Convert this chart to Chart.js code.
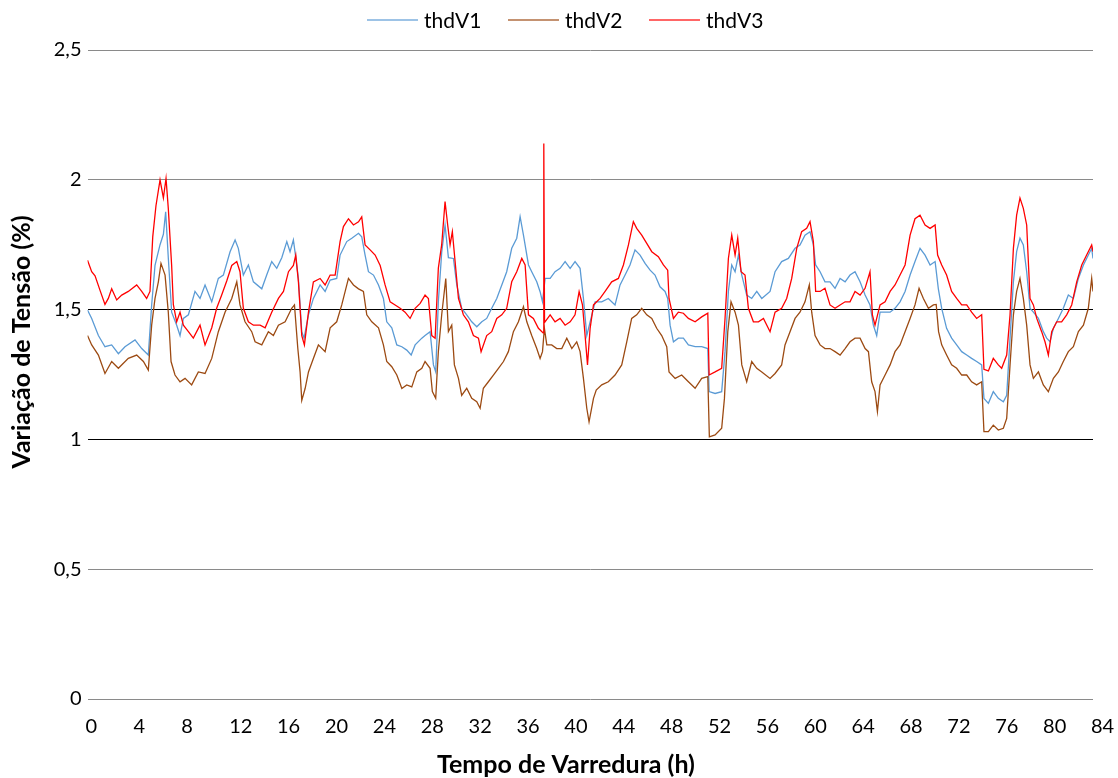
<!DOCTYPE html>
<html><head><meta charset="utf-8">
<script src="https://cdn.jsdelivr.net/npm/chart.js@4.4.0/dist/chart.umd.min.js"></script>
<style>html,body{margin:0;padding:0;background:#fff}#wrap{width:1118px;height:778px}</style>
</head><body><div id="wrap"><canvas id="c" width="1118" height="778"></canvas></div>
<script>
const seriesNames = ['thdV1', 'thdV2', 'thdV3'];
const seriesColors = ['#5B9BD5', '#9C4A12', '#FF0000'];
const xTickValues = [0,4,8,12,16,20,24,28,32,36,40,44,48,52,56,60,64,68,72,76,80,84];
const yTickValues = [0,0.5,1,1.5,2,2.5];
const xTitle = 'Tempo de Varredura (h)';
const yTitle = 'Variação de Tensão (%)';

// [hours, value] readings
const thdV1 = [[0,1.498],[0.35,1.466],[0.91,1.40],[1.46,1.357],[2.02,1.364],[2.58,1.33],[3.13,1.357],[3.97,1.383],[4.53,1.35],[5.08,1.325],[5.36,1.518],[5.64,1.67],[6.06,1.75],[6.34,1.79],[6.53,1.877],[6.75,1.70],[7.03,1.49],[7.45,1.44],[7.73,1.40],[8.01,1.466],[8.43,1.48],[8.98,1.57],[9.40,1.543],[9.82,1.595],[10.38,1.53],[10.93,1.62],[11.35,1.633],[11.91,1.723],[12.33,1.768],[12.60,1.736],[13.02,1.633],[13.44,1.672],[13.86,1.607],
[14.56,1.58],[14.97,1.633],[15.39,1.685],[15.81,1.659],[16.23,1.70],[16.65,1.762],[16.92,1.723],[17.2,1.768],[17.4,1.70],[17.62,1.62],[17.9,1.415],[18.09,1.39],[18.46,1.48],[18.87,1.543],[19.43,1.595],[19.85,1.57],[20.27,1.614],[20.82,1.62],[21.1,1.71],[21.66,1.762],[22.08,1.775],[22.64,1.794],[22.91,1.78],[23.19,1.71],[23.47,1.646],[23.89,1.633],[24.31,1.595],[24.72,1.543],[25.0,1.453],[25.42,1.43],[25.84,1.364],[26.26,1.357],[26.67,1.344],[27.04,1.325],[27.37,1.364],[27.93,1.39],
[28.2,1.40],[28.62,1.415],[28.9,1.287],[29.09,1.26],[29.31,1.53],[29.59,1.72],[29.87,1.826],[30.15,1.70],[30.57,1.697],[30.85,1.595],[31.26,1.505],[31.68,1.48],[32.1,1.453],[32.52,1.434],[32.94,1.453],[33.35,1.466],[33.77,1.505],[34.19,1.543],[34.61,1.595],[35.02,1.646],[35.44,1.736],[35.86,1.775],[36.14,1.858],[36.42,1.787],[36.84,1.672],[37.11,1.646],[37.53,1.607],[37.81,1.569],[38.01,1.53],[38.23,1.62],[38.65,1.62],[39.06,1.646],[39.48,1.659],[39.9,1.685],[40.32,1.659],[40.73,1.685],[41.15,1.659],[41.43,1.543],[41.71,1.40],[41.99,1.453],[42.41,1.53],
[42.96,1.53],[43.51,1.543],[44.07,1.518],[44.49,1.595],[44.91,1.633],[45.32,1.672],[45.74,1.73],[46.16,1.71],[46.58,1.678],[47.0,1.652],[47.41,1.633],[47.83,1.588],[48.25,1.57],[48.47,1.543],[48.67,1.44],[48.95,1.376],[49.36,1.39],[49.78,1.39],[50.2,1.364],[50.76,1.357],[51.31,1.357],[51.82,1.35],[51.93,1.184],[52.43,1.177],[52.98,1.184],[53.26,1.338],[53.54,1.57],[53.82,1.672],[54.1,1.646],[54.38,1.71],[54.66,1.633],[55.07,1.556],[55.49,1.543],[55.91,1.57],[56.33,1.543],
[57.02,1.57],[57.44,1.646],[57.99,1.685],[58.55,1.697],[59.11,1.736],[59.52,1.749],[59.94,1.787],[60.36,1.80],[60.64,1.749],[60.83,1.672],[61.2,1.646],[61.61,1.607],[62.03,1.607],[62.45,1.582],[62.87,1.62],[63.29,1.607],[63.7,1.633],[64.12,1.646],[64.54,1.607],[64.96,1.556],[65.37,1.518],[65.65,1.44],[65.93,1.40],[66.21,1.49],[66.63,1.49],[67.05,1.49],[67.46,1.505],[67.88,1.53],[68.3,1.57],[68.72,1.633],[69.13,1.685],[69.55,1.736],[69.97,1.71],[70.39,1.672],[70.81,1.685],
[71.08,1.58],[71.36,1.505],[71.77,1.428],[72.19,1.39],[72.61,1.364],[73.03,1.338],[73.45,1.325],[73.86,1.312],[74.28,1.30],[74.7,1.287],[74.89,1.158],[75.26,1.139],[75.67,1.184],[76.09,1.158],[76.51,1.145],[76.79,1.17],[77.07,1.39],[77.35,1.607],[77.62,1.723],[77.9,1.775],[78.18,1.749],[78.46,1.646],[78.74,1.505],[79.02,1.49],[79.44,1.466],[79.85,1.415],[80.13,1.39],[80.41,1.376],[80.69,1.428],[81.11,1.466],[81.52,1.505],[81.94,1.556],[82.36,1.543],[82.78,1.62],[83.2,1.672],[83.61,1.71],[83.89,1.736],[84.0,1.697]];

const thdV2 = [[0,1.40],[0.35,1.364],[0.91,1.325],[1.46,1.254],[2.02,1.30],[2.58,1.274],[3.41,1.312],[4.11,1.325],[4.67,1.30],[5.08,1.267],[5.36,1.44],[5.64,1.543],[5.92,1.607],[6.14,1.678],[6.48,1.633],[6.75,1.49],[6.98,1.30],[7.31,1.248],[7.73,1.222],[8.15,1.235],[8.70,1.21],[9.26,1.26],[9.82,1.254],[10.38,1.312],[10.93,1.415],[11.49,1.49],[12.05,1.543],[12.47,1.607],[12.74,1.518],[13.16,1.453],[13.72,1.415],
[14.0,1.376],[14.56,1.364],[15.11,1.415],[15.53,1.40],[15.95,1.44],[16.51,1.453],[17.06,1.505],[17.29,1.518],[17.57,1.35],[17.76,1.26],[17.9,1.15],[18.18,1.196],[18.46,1.26],[18.87,1.312],[19.29,1.364],[19.85,1.338],[20.27,1.43],[20.82,1.453],[21.24,1.518],[21.8,1.62],[22.22,1.595],[22.64,1.58],[23.05,1.57],[23.33,1.48],[23.75,1.453],[24.31,1.43],[24.72,1.364],[25.0,1.30],[25.42,1.28],[25.84,1.248],[26.26,1.196],[26.67,1.21],[27.09,1.202],[27.51,1.26],[27.93,1.274],
[28.2,1.30],[28.62,1.274],[28.81,1.184],[29.09,1.158],[29.31,1.338],[29.59,1.48],[29.93,1.62],[30.15,1.415],[30.43,1.44],[30.65,1.287],[30.99,1.235],[31.26,1.17],[31.68,1.197],[32.1,1.158],[32.52,1.145],[32.8,1.12],[33.07,1.197],[33.49,1.222],[33.91,1.248],[34.33,1.274],[34.75,1.30],[35.16,1.338],[35.58,1.415],[36.0,1.453],[36.42,1.511],[36.7,1.453],[37.11,1.40],[37.53,1.35],[37.81,1.312],[38.01,1.338],[38.17,1.428],[38.37,1.364],[38.78,1.364],[39.2,1.35],[39.62,1.35],[40.04,1.39],[40.46,1.35],[40.87,1.376],[41.15,1.338],[41.43,1.235],[41.71,1.12],[41.9,1.068],[42.27,1.158],
[42.5,1.19],[42.96,1.21],[43.51,1.222],[44.07,1.248],[44.63,1.287],[45.05,1.376],[45.46,1.466],[45.88,1.48],[46.3,1.505],[46.72,1.48],[47.14,1.466],[47.55,1.428],[47.97,1.40],[48.39,1.357],[48.58,1.26],[49.09,1.235],[49.64,1.248],[50.2,1.222],[50.76,1.197],[51.31,1.235],[51.82,1.242],[51.95,1.01],[52.43,1.017],[52.98,1.043],[53.21,1.158],[53.49,1.415],[53.76,1.53],[54.1,1.49],[54.38,1.44],[54.66,1.287],[55.07,1.222],[55.49,1.30],[55.91,1.274],[56.33,1.26],
[57.02,1.235],[57.44,1.254],[57.99,1.287],[58.27,1.364],[58.69,1.415],[59.11,1.466],[59.52,1.49],[59.94,1.53],[60.3,1.595],[60.5,1.49],[60.78,1.40],[61.2,1.364],[61.61,1.35],[62.03,1.35],[62.45,1.338],[62.87,1.325],[63.29,1.35],[63.7,1.376],[64.12,1.39],[64.54,1.39],[64.96,1.35],[65.24,1.338],[65.51,1.222],[65.79,1.184],[65.99,1.107],[66.21,1.21],[66.63,1.248],[67.05,1.287],[67.46,1.338],[67.88,1.364],[68.3,1.415],[68.72,1.466],[69.13,1.518],[69.47,1.582],[69.83,1.543],[70.25,1.505],[70.67,1.518],
[70.9,1.52],[71.1,1.415],[71.36,1.364],[71.77,1.325],[72.19,1.287],[72.61,1.274],[73.03,1.248],[73.45,1.248],[73.86,1.222],[74.28,1.21],[74.7,1.222],[74.89,1.03],[75.26,1.03],[75.67,1.055],[76.09,1.036],[76.51,1.043],[76.79,1.081],[77.07,1.287],[77.35,1.48],[77.62,1.57],[77.9,1.62],[78.18,1.543],[78.46,1.44],[78.74,1.287],[79.02,1.235],[79.44,1.26],[79.85,1.21],[80.27,1.184],[80.69,1.235],[81.11,1.26],[81.52,1.30],[81.94,1.338],[82.36,1.357],[82.78,1.415],[83.2,1.44],[83.61,1.505],[83.89,1.62],[84.0,1.57]];

const thdV3 = [[0,1.69],[0.35,1.646],[0.63,1.63],[1.04,1.575],[1.46,1.52],[1.74,1.543],[2.02,1.58],[2.44,1.537],[2.86,1.556],[3.41,1.57],[4.11,1.595],[4.53,1.57],[4.94,1.543],[5.22,1.57],[5.45,1.78],[5.72,1.90],[6.06,2.0],[6.34,1.93],[6.56,2.005],[6.75,1.89],[7.03,1.67],[7.17,1.52],[7.45,1.453],[7.73,1.49],[8.01,1.44],[8.43,1.415],[8.84,1.39],[9.40,1.44],[9.82,1.364],[10.38,1.43],[10.79,1.505],[11.21,1.556],[11.63,1.61],[12.05,1.67],[12.47,1.685],[12.74,1.646],[13.02,1.505],[13.44,1.453],[13.86,1.44],
[14.42,1.44],[14.84,1.43],[15.39,1.49],[15.95,1.543],[16.37,1.57],[16.79,1.646],[17.2,1.67],[17.4,1.71],[17.62,1.607],[17.9,1.40],[18.12,1.364],[18.46,1.49],[18.87,1.607],[19.43,1.62],[19.85,1.595],[20.27,1.633],[20.69,1.633],[21.1,1.762],[21.38,1.82],[21.8,1.85],[22.22,1.826],[22.64,1.838],[22.91,1.857],[23.19,1.749],[23.61,1.73],[24.03,1.71],[24.45,1.67],[24.86,1.595],[25.28,1.53],[25.7,1.518],[26.12,1.505],[26.53,1.49],[26.95,1.466],[27.37,1.505],[27.79,1.524],
[28.2,1.556],[28.48,1.543],[28.76,1.40],[29.04,1.39],[29.31,1.66],[29.59,1.75],[29.87,1.916],[30.09,1.826],[30.29,1.75],[30.48,1.80],[30.71,1.685],[30.99,1.543],[31.4,1.48],[31.82,1.453],[32.24,1.40],[32.66,1.39],[32.88,1.338],[33.35,1.40],[33.77,1.415],[34.19,1.466],[34.61,1.48],[35.02,1.505],[35.44,1.607],[35.86,1.646],[36.28,1.697],[36.56,1.672],[36.84,1.48],[37.25,1.466],[37.67,1.428],[38.06,1.41],[38.12,2.14],[38.18,1.45],[38.65,1.48],[39.06,1.453],[39.48,1.466],[39.9,1.44],[40.32,1.453],[40.73,1.48],[41.07,1.569],[41.35,1.518],[41.57,1.40],[41.77,1.287],[41.99,1.428],[42.27,1.518],
[42.82,1.543],[43.24,1.57],[43.79,1.607],[44.35,1.62],[44.77,1.672],[45.19,1.749],[45.6,1.839],[45.88,1.813],[46.3,1.787],[46.72,1.755],[47.14,1.723],[47.69,1.704],[48.11,1.672],[48.47,1.652],[48.58,1.543],[48.95,1.466],[49.36,1.49],[49.78,1.486],[50.2,1.466],[50.76,1.453],[51.31,1.472],[51.82,1.486],[51.93,1.248],[52.43,1.26],[52.98,1.274],[53.26,1.466],[53.54,1.697],[53.82,1.787],[54.1,1.71],[54.32,1.775],[54.6,1.646],[54.93,1.633],[55.21,1.505],[55.63,1.453],[56.05,1.453],[56.47,1.466],
[57.02,1.415],[57.44,1.49],[57.99,1.505],[58.41,1.543],[58.83,1.62],[59.25,1.736],[59.66,1.80],[60.08,1.813],[60.36,1.839],[60.64,1.762],[60.83,1.57],[61.2,1.57],[61.61,1.582],[62.03,1.518],[62.45,1.505],[62.87,1.518],[63.29,1.53],[63.7,1.53],[64.12,1.57],[64.54,1.556],[64.96,1.582],[65.37,1.646],[65.57,1.48],[65.79,1.44],[66.21,1.518],[66.63,1.53],[67.05,1.57],[67.46,1.595],[67.88,1.633],[68.3,1.672],[68.72,1.787],[69.13,1.85],[69.55,1.864],[69.97,1.826],[70.39,1.813],[70.81,1.826],
[71.02,1.71],[71.36,1.672],[71.77,1.633],[72.19,1.57],[72.61,1.543],[73.03,1.518],[73.45,1.518],[73.86,1.49],[74.28,1.466],[74.7,1.48],[74.89,1.27],[75.26,1.264],[75.67,1.312],[76.09,1.287],[76.37,1.274],[76.79,1.325],[77.07,1.48],[77.35,1.736],[77.62,1.864],[77.9,1.93],[78.18,1.89],[78.46,1.826],[78.74,1.543],[79.02,1.518],[79.3,1.466],[79.71,1.415],[79.99,1.376],[80.27,1.325],[80.55,1.415],[80.97,1.453],[81.38,1.453],[81.8,1.48],[82.22,1.518],[82.64,1.607],[83.06,1.672],[83.47,1.71],[83.89,1.749],[84.0,1.723]];

const seriesData = [thdV1, thdV2, thdV3];
const FONT = 'Lato';

const overlay = {
  id: 'overlay',
  afterDraw(chart) {
    const ctx = chart.ctx;
    ctx.save();
    const startX = 367, step = 141, ly = 20;
    chart.data.datasets.forEach((ds, i) => {
      const x0 = startX + i * step;
      ctx.globalAlpha = 0.6;
      ctx.strokeStyle = ds.borderColor;
      ctx.lineWidth = 2;
      ctx.beginPath(); ctx.moveTo(x0, ly); ctx.lineTo(x0 + 51, ly); ctx.stroke();
      ctx.globalAlpha = 1;
      ctx.fillStyle = '#000';
      ctx.font = '21px ' + FONT;
      ctx.textAlign = 'left'; ctx.textBaseline = 'middle';
      ctx.fillText(ds.label, x0 + 57, ly + 1);
    });
    ctx.fillStyle = '#000';
    ctx.font = 'bold 25px ' + FONT;
    ctx.textAlign = 'center'; ctx.textBaseline = 'middle';
    ctx.fillText(xTitle, 566, 765);
    ctx.translate(22, 342);
    ctx.rotate(-Math.PI / 2);
    ctx.fillText(yTitle, 0, 0);
    ctx.restore();
  }
};

new Chart(document.getElementById('c'), {
  type: 'line',
  data: {
    datasets: seriesNames.map((name, i) => ({
      label: name,
      data: seriesData[i].map(p => ({x: p[0], y: p[1]})),
      borderColor: seriesColors[i],
      backgroundColor: seriesColors[i],
      borderWidth: 1.3,
      pointRadius: 0,
      tension: 0,
      fill: false,
      order: 3 - i
    }))
  },
  options: {
    responsive: false,
    animation: false,
    devicePixelRatio: 1,
    layout: {padding: {top: 50, right: 25, left: 0, bottom: 0}},
    plugins: {legend: {display: false}, tooltip: {enabled: false}},
    scales: {
      x: {
        type: 'linear', min: 0, max: 84,
        afterBuildTicks: s => { s.ticks = xTickValues.map(v => ({value: v})); },
        afterFit: s => { s.height = 79; s.paddingLeft = 0; s.paddingRight = 0; },
        grid: {display: false, drawTicks: false},
        border: {display: false},
        ticks: {autoSkip: false, maxRotation: 0, align: 'start', labelOffset: -2, padding: 16, color: '#000', font: {family: FONT, size: 20}}
      },
      y: {
        min: 0, max: 2.5,
        afterBuildTicks: s => { s.ticks = yTickValues.map(v => ({value: v})); },
        afterFit: s => { s.width = 87.5; s.paddingTop = 0; s.paddingBottom = 0; },
        grid: {drawTicks: false, lineWidth: 1, color: c => (c.tick && (c.tick.value === 1.5 || c.tick.value === 1)) ? '#000' : '#8a8a8a'},
        border: {display: false},
        ticks: {padding: 6, color: '#000', font: {family: FONT, size: 20}, callback: v => String(v).replace('.', ',')}
      }
    }
  },
  plugins: [overlay]
});
</script>
</body></html>
